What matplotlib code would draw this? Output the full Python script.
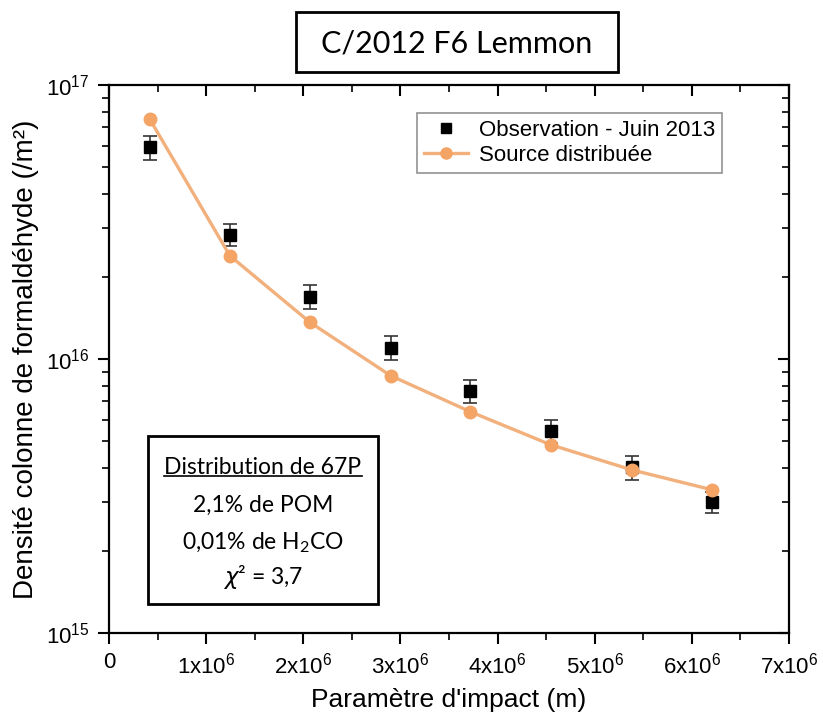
import matplotlib
matplotlib.use("Agg")
import matplotlib.pyplot as plt
from matplotlib.patches import Rectangle
from matplotlib.lines import Line2D
from matplotlib.ticker import FixedLocator, MultipleLocator, LogLocator, NullFormatter
import numpy as np

plt.rcParams['font.family'] = ['Liberation Sans', 'DejaVu Sans']

# ---- data ----
impact = [0.42e6, 1.245e6, 2.07e6, 2.90e6, 3.72e6, 4.55e6, 5.38e6, 6.21e6]
obs = [5.92e16, 2.84e16, 1.69e16, 1.10e16, 7.66e15, 5.47e15, 4.03e15, 3.01e15]
obs_err = [0.58e16, 0.26e16, 0.17e16, 0.11e16, 0.74e15, 0.52e15, 0.41e15, 0.27e15]
model = [7.5e16, 2.38e16, 1.36e16, 8.69e15, 6.42e15, 4.86e15, 3.94e15, 3.33e15]
xticks = [0, 1e6, 2e6, 3e6, 4e6, 5e6, 6e6, 7e6]
xticklabels = ["0"] + [r"$\mathregular{%dx10^{6}}$" % i for i in range(1, 8)]
yticks = [1e15, 1e16, 1e17]
yticklabels = [r"$\mathregular{10^{15}}$", r"$\mathregular{10^{16}}$", r"$\mathregular{10^{17}}$"]

W, H = 823, 721
fig = plt.figure(figsize=(W / 100, H / 100), dpi=100)
L, R, B, T = 109, 789, 633, 85
ax = fig.add_axes([L / W, 1 - B / H, (R - L) / W, (B - T) / H])

orange_m = '#F4A465'
orange_l = '#F2B07C'

ax.errorbar(impact, obs, yerr=obs_err, fmt='s', color='black', ms=8.5,
            ecolor='#333333', elinewidth=1.2, capsize=5, capthick=1.2, zorder=3)
ax.plot(impact, model, '-', color=orange_l, lw=2.4, marker='o', ms=9,
        mfc=orange_m, mec=orange_m, zorder=4)

ax.set_yscale('log')
ax.set_xlim(0, 7e6)
ax.set_ylim(1e15, 1e17)
ax.set_xticks(xticks)
ax.set_xticklabels(xticklabels, fontsize=16)
ax.xaxis.set_minor_locator(MultipleLocator(0.5e6))
ax.yaxis.set_major_locator(FixedLocator(yticks))
ax.set_yticklabels(yticklabels, fontsize=16)
ax.yaxis.set_minor_locator(LogLocator(base=10, subs=np.arange(2, 10)))
ax.yaxis.set_minor_formatter(NullFormatter())
ax.tick_params(which='major', direction='out', length=8, width=1.5, pad=6)
ax.tick_params(which='minor', direction='out', length=5, width=1.2)
for s in ax.spines.values():
    s.set_linewidth(1.6)

ax.set_xlabel("Paramètre d'impact (m)", fontsize=19, labelpad=7)
ax.set_ylabel("Densité colonne de formaldéhyde (/m²)", fontsize=20, labelpad=5)

# mirrored ticks (inward) on top and right
axt = ax.twiny()
axt.set_xlim(ax.get_xlim())
axt.set_xticks(xticks)
axt.xaxis.set_minor_locator(MultipleLocator(0.5e6))
axt.tick_params(which='both', direction='in', labeltop=False)
axt.tick_params(which='major', length=8, width=1.5)
axt.tick_params(which='minor', length=5, width=1.2)
axr = ax.twinx()
axr.set_yscale('log')
axr.set_ylim(ax.get_ylim())
axr.yaxis.set_major_locator(FixedLocator(yticks))
axr.yaxis.set_minor_locator(LogLocator(base=10, subs=np.arange(2, 10)))
axr.tick_params(which='both', direction='in', labelright=False)
axr.tick_params(which='major', length=8, width=1.5)
axr.tick_params(which='minor', length=5, width=1.2)
for a in (axt, axr):
    for s in a.spines.values():
        s.set_visible(False)

h_obs = Line2D([], [], ls='none', marker='s', color='black', ms=7)
h_mod = Line2D([], [], ls='-', color=orange_l, lw=2.4, marker='o', ms=8,
               mfc=orange_m, mec=orange_m)
leg = axr.legend([h_obs, h_mod], ['Observation - Juin 2013', 'Source distribuée'],
                 loc='upper right', bbox_to_anchor=((722 - L) / (R - L), (B - 113) / (B - T)),
                 borderaxespad=0, fontsize=16, frameon=True, fancybox=False,
                 edgecolor='#777777', handlelength=2.0, handletextpad=0.5,
                 borderpad=0.3, labelspacing=0.2)
leg.get_frame().set_linewidth(1.2)

# annotation box
bx0, bx1, by0, by1 = 148, 378, 436, 604
def ax_frac(px, py):
    return (px - L) / (R - L), (B - py) / (B - T)
x0, y1 = ax_frac(bx0, by0)
x1, y0 = ax_frac(bx1, by1)
ax.add_patch(Rectangle((x0, y0), x1 - x0, y1 - y0, transform=ax.transAxes,
                       fill=True, facecolor='white', edgecolor='black', lw=2, zorder=6))
cx = (x0 + x1) / 2
lines = ["Distribution de 67P", "2,1% de POM", r"0,01% de H$\mathregular{_2}$CO", r"$\chi$² = 3,7"]
ys = [467, 505, 543, 577]
texts = []
for s, py in zip(lines, ys):
    t = ax.text(cx, ax_frac(0, py)[1], s, transform=ax.transAxes, ha='center', va='center',
                fontsize=16.5, family=['Lato', 'DejaVu Sans'], zorder=7)
    texts.append(t)

# title box
fig.patches.append(Rectangle((296 / W, 1 - 72 / H), (618 - 296) / W, (72 - 12) / H,
                             transform=fig.transFigure, fill=False, edgecolor='black', lw=2))
fig.text(457 / W, 1 - 44 / H, "C/2012 F6 Lemmon", ha='center', va='center',
         fontsize=22, family=['Lato', 'DejaVu Sans'])

# underline first line of box
fig.canvas.draw()
r = fig.canvas.get_renderer()
bb = texts[0].get_window_extent(r)
inv = fig.transFigure.inverted()
(ux0, uy), (ux1, _) = inv.transform([(bb.x0, bb.y0 + 2), (bb.x1, bb.y0 + 2)])
fig.lines.append(Line2D([ux0, ux1], [uy, uy], transform=fig.transFigure, color='black', lw=1.2, zorder=8))

fig.savefig("out.png", dpi=100)
